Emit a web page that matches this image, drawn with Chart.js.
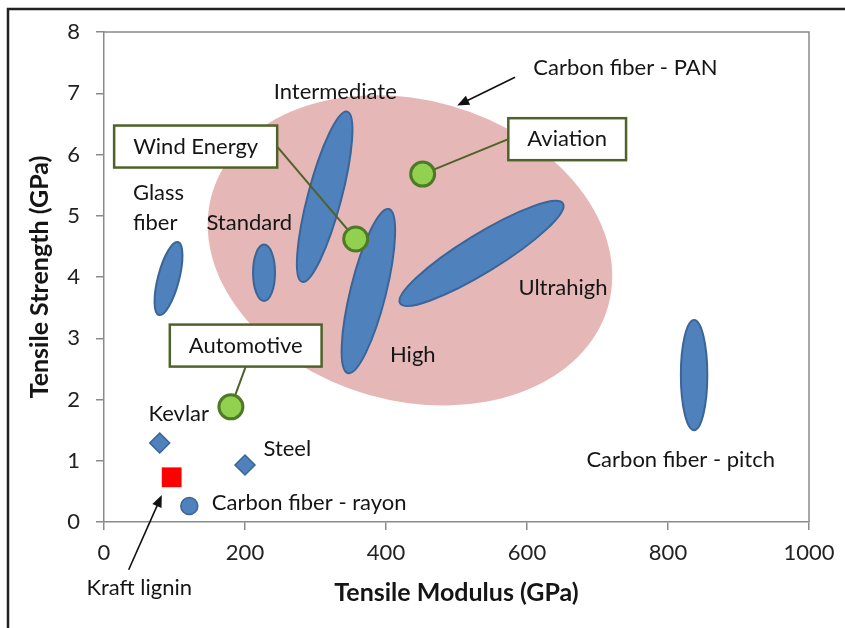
<!DOCTYPE html>
<html>
<head>
<meta charset="utf-8">
<script src="https://cdn.jsdelivr.net/npm/chart.js@4"></script>
<style>
  html, body { margin: 0; padding: 0; background: #fff; overflow: hidden; }
  canvas { display: block; }
</style>
</head>
<body>
<canvas id="fiberChart" width="845" height="628"></canvas>
<script>
// x = tensile modulus (GPa), y = tensile strength (GPa)
const fiberNames = ["Kevlar", "Steel", "Kraft lignin", "Carbon fiber - rayon"];
const fiberModulus = [79, 200, 96, 121];
const fiberStrength = [1.29, 0.93, 0.73, 0.26];

const appNames = ["Automotive", "Wind Energy", "Aviation"];
const appModulus = [180, 357, 452];
const appStrength = [1.88, 4.62, 5.68];

// ranges drawn as ellipses: both ends of the long axis, and short/long ratio
const rangeNames = ["Carbon fiber - PAN", "Glass fiber", "Standard", "Intermediate", "High", "Ultrahigh", "Carbon fiber - pitch"];
const rangeModulus = [[153, 715], [105, 78], [227, 227], [345, 281], [404, 346], [651, 420], [837, 837]];
const rangeStrength = [[5.35, 3.52], [4.57, 3.38], [4.53, 3.61], [6.70, 3.92], [5.11, 2.43], [5.20, 3.57], [3.30, 1.50]];
const rangeRatio = [0.73, 0.28, 0.39, 0.19, 0.21, 0.2, 0.24];

const modulusTicks = [0, 200, 400, 600, 800, 1000];
const strengthTicks = [0, 1, 2, 3, 4, 5, 6, 7, 8];

const FONT = "Lato, 'Open Sans', sans-serif";
const blue = "#4f81bd", blueEdge = "#3a6597";
const pink = "#e5b8b7";
const olive = "#4f6228";
const ink = "#151515";

// text placed on the chart (data coordinates)
let notes = [
    { text: "Intermediate", at: [328, 7.03] },
    { text: "Carbon fiber - PAN", at: [609, 7.41], align: "left" },
    { text: "Glass", at: [41, 5.38], align: "left" },
    { text: "fiber", at: [41, 4.89], align: "left" },
    { text: "Standard", at: [206, 4.88] },
    { text: "High", at: [438, 2.72] },
    { text: "Ultrahigh", at: [651, 3.83] },
    { text: "Carbon fiber - pitch", at: [818, 1.01] },
    { text: "Kevlar", at: [106, 1.76] },
    { text: "Steel", at: [260, 1.19] },
    { text: "Carbon fiber - rayon", at: [153, 0.31], align: "left" },
    { text: "Kraft lignin", at: [50, -1.08] }
];

let arrows = [
    { from: [583, 7.26], to: [501, 6.80] },
    { from: [35, -0.78], to: [82, 0.44] }
];

// callout boxes for the application points, same order as appNames
let callouts = [
    { at: [201, 2.88], side: "bottom" },
    { at: [130, 6.13], side: "right" },
    { at: [657, 6.25], side: "left" }
];

function boxFor(ctx, i, x, y) {
    ctx.font = "22px " + FONT;
    let w = ctx.measureText(appNames[i]).width + 38;
    let h = 42;
    let cx = x.getPixelForValue(callouts[i].at[0]);
    let cy = y.getPixelForValue(callouts[i].at[1]);
    return { l: cx - w / 2, t: cy - h / 2, w: w, h: h, cx: cx, cy: cy };
}

const shapesPlugin = {
    id: "shapes",
    beforeDraw(chart) {
        let ctx = chart.ctx;
        ctx.save();
        ctx.strokeStyle = "#222";
        ctx.lineWidth = 2.5;
        ctx.beginPath();
        ctx.moveTo(8, 628);
        ctx.lineTo(8, 9);
        ctx.lineTo(845, 9);
        ctx.stroke();
        ctx.restore();
    },
    beforeDatasetsDraw(chart) {
        let { ctx, chartArea, scales: { x, y } } = chart;
        ctx.save();

        // plot frame top / right
        ctx.strokeStyle = "#8a8a8a";
        ctx.lineWidth = 1.5;
        ctx.beginPath();
        ctx.moveTo(chartArea.left, chartArea.top);
        ctx.lineTo(chartArea.right, chartArea.top);
        ctx.lineTo(chartArea.right, chartArea.bottom);
        ctx.stroke();

        rangeNames.forEach((name, i) => {
            let x1 = x.getPixelForValue(rangeModulus[i][0]);
            let x2 = x.getPixelForValue(rangeModulus[i][1]);
            let y1 = y.getPixelForValue(rangeStrength[i][0]);
            let y2 = y.getPixelForValue(rangeStrength[i][1]);
            let a = Math.hypot(x2 - x1, y2 - y1) / 2;
            let ang = Math.atan2(y2 - y1, x2 - x1);
            ctx.beginPath();
            ctx.ellipse((x1 + x2) / 2, (y1 + y2) / 2, a, a * rangeRatio[i], ang, 0, Math.PI * 2);
            if (i === 0) {
                ctx.fillStyle = pink;
                ctx.fill();
            } else {
                ctx.fillStyle = blue;
                ctx.fill();
                ctx.strokeStyle = blueEdge;
                ctx.lineWidth = 2;
                ctx.stroke();
            }
        });

        // callout lines + boxes
        appNames.forEach((name, i) => {
            let b = boxFor(ctx, i, x, y);
            let px = x.getPixelForValue(appModulus[i]);
            let py = y.getPixelForValue(appStrength[i]);
            let sx = b.cx, sy = b.cy;
            if (callouts[i].side === "right") sx = b.l + b.w;
            if (callouts[i].side === "left") sx = b.l;
            if (callouts[i].side === "bottom") sy = b.t + b.h;
            ctx.strokeStyle = olive;
            ctx.lineWidth = 2;
            ctx.beginPath();
            ctx.moveTo(sx, sy);
            ctx.lineTo(px, py);
            ctx.stroke();

            ctx.fillStyle = "#fff";
            ctx.fillRect(b.l, b.t, b.w, b.h);
            ctx.lineWidth = 2.5;
            ctx.strokeRect(b.l, b.t, b.w, b.h);
            ctx.fillStyle = ink;
            ctx.textAlign = "center";
            ctx.textBaseline = "middle";
            ctx.fillText(name, b.cx, b.cy);
        });
        ctx.restore();
    },
    afterDatasetsDraw(chart) {
        let { ctx, scales: { x, y } } = chart;
        ctx.save();
        ctx.font = "22px " + FONT;
        ctx.fillStyle = ink;
        ctx.textBaseline = "middle";
        notes.forEach(n => {
            ctx.textAlign = n.align || "center";
            ctx.fillText(n.text, x.getPixelForValue(n.at[0]), y.getPixelForValue(n.at[1]));
        });

        ctx.strokeStyle = "#111";
        ctx.fillStyle = "#111";
        ctx.lineWidth = 1.6;
        arrows.forEach(ar => {
            let x1 = x.getPixelForValue(ar.from[0]), y1 = y.getPixelForValue(ar.from[1]);
            let x2 = x.getPixelForValue(ar.to[0]), y2 = y.getPixelForValue(ar.to[1]);
            let ang = Math.atan2(y2 - y1, x2 - x1);
            ctx.beginPath();
            ctx.moveTo(x1, y1);
            ctx.lineTo(x2 - 8 * Math.cos(ang), y2 - 8 * Math.sin(ang));
            ctx.stroke();
            ctx.beginPath();
            ctx.moveTo(x2, y2);
            ctx.lineTo(x2 - 12 * Math.cos(ang) + 5 * Math.sin(ang), y2 - 12 * Math.sin(ang) - 5 * Math.cos(ang));
            ctx.lineTo(x2 - 12 * Math.cos(ang) - 5 * Math.sin(ang), y2 - 12 * Math.sin(ang) + 5 * Math.cos(ang));
            ctx.closePath();
            ctx.fill();
        });
        ctx.restore();
    }
};

function pointsOf(xs, ys) {
    return xs.map((v, i) => ({ x: v, y: ys[i] }));
}

let fiberPts = pointsOf(fiberModulus, fiberStrength);

let chart = new Chart(document.getElementById("fiberChart"), {
    type: "scatter",
    data: {
        datasets: [
            {
                label: "Kevlar / Steel",
                data: [fiberPts[0], fiberPts[1]],
                pointStyle: "rectRot",
                pointRadius: 10,
                backgroundColor: blue,
                borderColor: blueEdge,
                borderWidth: 1.5
            },
            {
                label: fiberNames[2],
                data: [fiberPts[2]],
                pointStyle: "rect",
                pointRadius: 14,
                backgroundColor: "#ff0000",
                borderColor: "#ff0000",
                borderWidth: 0
            },
            {
                label: fiberNames[3],
                data: [fiberPts[3]],
                pointStyle: "circle",
                pointRadius: 8.5,
                backgroundColor: blue,
                borderColor: blueEdge,
                borderWidth: 1.5
            },
            {
                label: "Applications",
                data: pointsOf(appModulus, appStrength),
                pointStyle: "circle",
                pointRadius: 12,
                backgroundColor: "#92d050",
                borderColor: "#4e7a27",
                borderWidth: 3
            }
        ]
    },
    options: {
        responsive: false,
        animation: false,
        devicePixelRatio: 1,
        layout: { padding: { top: 32, right: 36, left: 0, bottom: 0 } },
        plugins: { legend: { display: false }, tooltip: { enabled: false } },
        scales: {
            x: {
                type: "linear",
                min: modulusTicks[0],
                max: modulusTicks[modulusTicks.length - 1],
                afterFit: s => { s.height = 106; },
                afterBuildTicks: s => { s.ticks = modulusTicks.map(v => ({ value: v })); },
                grid: { drawOnChartArea: false, drawTicks: true, tickLength: 8, color: "#8a8a8a", lineWidth: 1.5 },
                border: { color: "#8a8a8a", width: 1.5 },
                ticks: {
                    font: { family: FONT, size: 22 },
                    color: "#222",
                    padding: 10,
                    maxRotation: 0,
                    callback: v => String(v)
                },
                title: {
                    display: true,
                    text: "Tensile Modulus (GPa)",
                    font: { family: FONT, size: 25, weight: "bold" },
                    color: ink,
                    padding: { top: 0, bottom: 20 }
                }
            },
            y: {
                type: "linear",
                min: strengthTicks[0],
                max: strengthTicks[strengthTicks.length - 1],
                afterFit: s => { s.width = 104; },
                afterBuildTicks: s => { s.ticks = strengthTicks.map(v => ({ value: v })); },
                grid: { drawOnChartArea: false, drawTicks: true, tickLength: 8, color: "#8a8a8a", lineWidth: 1.5 },
                border: { color: "#8a8a8a", width: 1.5 },
                ticks: { font: { family: FONT, size: 22 }, color: "#222", padding: 16, callback: v => String(v) },
                title: {
                    display: true,
                    text: "Tensile Strength (GPa)",
                    font: { family: FONT, size: 25, weight: "bold" },
                    color: ink,
                    padding: { top: 25, bottom: 0 }
                }
            }
        }
    },
    plugins: [shapesPlugin]
});
</script>
</body>
</html>
